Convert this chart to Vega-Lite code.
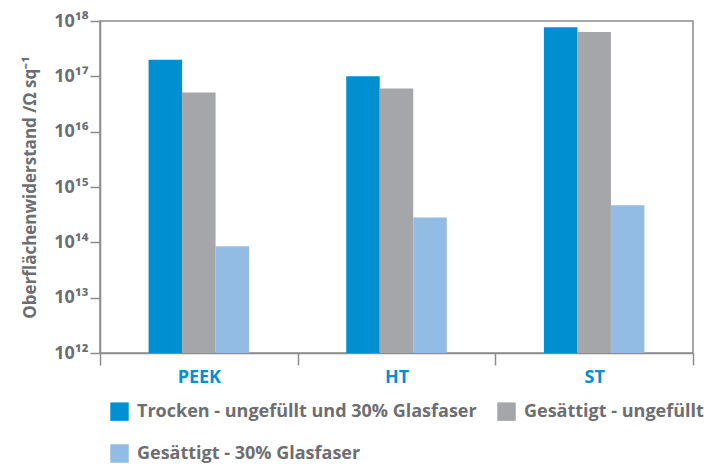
{
  "$schema": "https://vega.github.io/schema/vega-lite/v6.json",
  "width": 593,
  "height": 332,
  "autosize": "none",
  "padding": {"left": 100, "top": 21, "right": 25, "bottom": 111},
  "background": "white",
  "config": {
    "font": "Open Sans",
    "view": {"stroke": "#8c8c8c", "strokeWidth": 1.5}
  },
  "data": {
    "values": [
      {"material": "PEEK", "serie": "Trocken - ungefüllt und 30% Glasfaser", "wert": 2.0e17},
      {"material": "PEEK", "serie": "Gesättigt - ungefüllt", "wert": 5.1e16},
      {"material": "PEEK", "serie": "Gesättigt - 30% Glasfaser", "wert": 8.5e13},
      {"material": "HT", "serie": "Trocken - ungefüllt und 30% Glasfaser", "wert": 1.0e17},
      {"material": "HT", "serie": "Gesättigt - ungefüllt", "wert": 6.0e16},
      {"material": "HT", "serie": "Gesättigt - 30% Glasfaser", "wert": 2.8e14},
      {"material": "ST", "serie": "Trocken - ungefüllt und 30% Glasfaser", "wert": 7.7e17},
      {"material": "ST", "serie": "Gesättigt - ungefüllt", "wert": 6.3e17},
      {"material": "ST", "serie": "Gesättigt - 30% Glasfaser", "wert": 4.7e14}
    ]
  },
  "mark": {"type": "bar"},
  "encoding": {
    "x": {
      "field": "material",
      "type": "nominal",
      "sort": ["PEEK", "HT", "ST"],
      "scale": {"paddingInner": 0, "paddingOuter": 0},
      "axis": {
        "title": null,
        "labelAngle": 0,
        "tickBand": "extent",
        "domainColor": "#8c8c8c",
        "domainWidth": 1.5,
        "tickColor": "#8c8c8c",
        "tickWidth": 1.5,
        "tickSize": 12,
        "labelColor": "#0090d2",
        "labelFont": "Open Sans",
        "labelFontWeight": "bold",
        "labelFontSize": 18,
        "labelPadding": 3
      }
    },
    "xOffset": {
      "field": "serie",
      "type": "nominal",
      "scale": {
        "domain": ["_a", "Trocken - ungefüllt und 30% Glasfaser", "Gesättigt - ungefüllt", "Gesättigt - 30% Glasfaser", "_b"],
        "paddingInner": 0,
        "paddingOuter": 0.45
      }
    },
    "y": {
      "field": "wert",
      "type": "quantitative",
      "scale": {"type": "log", "domain": [1e12, 1e18]},
      "axis": {
        "title": "Oberflächenwiderstand /Ω sq⁻¹",
        "titleColor": "#6d6e71",
        "titleFont": "Open Sans",
        "titleFontWeight": "bold",
        "titleFontSize": 17,
        "titlePadding": 14,
        "values": [1e12, 1e13, 1e14, 1e15, 1e16, 1e17, 1e18],
        "labelExpr": "'10' + ['⁰','¹','²','³','⁴','⁵','⁶','⁷','⁸','⁹'][floor(floor(log(datum.value)/LN10 + 0.5) / 10)] + ['⁰','¹','²','³','⁴','⁵','⁶','⁷','⁸','⁹'][floor(log(datum.value)/LN10 + 0.5) % 10]",
        "labelColor": "#6d6e71",
        "labelFont": "Open Sans",
        "labelFontWeight": "bold",
        "labelFontSize": 18,
        "labelPadding": 2,
        "grid": false,
        "domainColor": "#8c8c8c",
        "domainWidth": 1.5,
        "tickColor": "#8c8c8c",
        "tickWidth": 1.5,
        "tickSize": 10
      }
    },
    "y2": {"datum": 1e12},
    "color": {
      "field": "serie",
      "type": "nominal",
      "scale": {
        "domain": ["Trocken - ungefüllt und 30% Glasfaser", "Gesättigt - ungefüllt", "Gesättigt - 30% Glasfaser"],
        "range": ["#0090d2", "#a5a6aa", "#93bce5"]
      },
      "legend": {
        "title": null,
        "orient": "none",
        "legendX": 10,
        "legendY": 381,
        "direction": "horizontal",
        "columns": 2,
        "columnPadding": 20,
        "rowPadding": 23,
        "symbolType": "square",
        "symbolSize": 340,
        "symbolStrokeWidth": 0,
        "labelOffset": 8,
        "labelFont": "Open Sans",
        "labelFontWeight": "bold",
        "labelFontSize": 18,
        "labelColor": "#6d6e71",
        "labelLimit": 600
      }
    }
  }
}
